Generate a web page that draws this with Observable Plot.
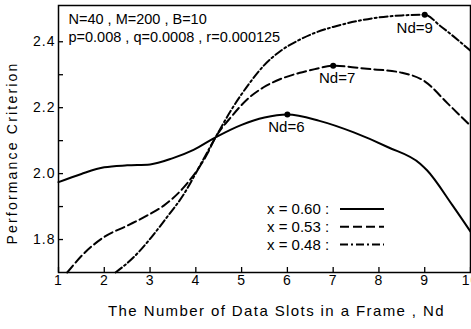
<!DOCTYPE html>
<html><head><meta charset="utf-8">
<script src="https://cdn.jsdelivr.net/npm/d3@7"></script>
<script src="https://cdn.jsdelivr.net/npm/@observablehq/plot@0.6"></script>
<style>
html,body{margin:0;padding:0;background:#fff;overflow:hidden}
#chart{position:relative;width:471px;height:329px}
</style></head><body><div id="chart"></div>
<script>
// ---- data ----
const xTicks = [1, 2, 3, 4, 5, 6, 7, 8, 9, 10];
const yTicks = [1.8, 1.9, 2.0, 2.1, 2.2, 2.3, 2.4];
const yLabeled = [1.8, 2.0, 2.2, 2.4];
const seriesNames = ["x = 0.60", "x = 0.53", "x = 0.48"];

const nd60 = [1, 1.5, 2, 2.5, 3, 3.5, 3.95, 4.43, 5, 5.5, 6, 6.7, 7.45, 8.2, 8.9, 9.05, 9.6, 10];
const perf60 = [1.974, 1.999, 2.019, 2.025, 2.028, 2.047, 2.072, 2.11, 2.148, 2.17, 2.179, 2.16, 2.125, 2.08, 2.03, 2.01, 1.905, 1.824];

const nd53 = [1.19, 1.55, 2, 2.5, 2.94, 3.3, 3.74, 4.25, 4.43, 4.76, 5.12, 5.48, 5.85, 6.25, 6.6, 7, 7.74, 8.5, 9, 9.5, 10];
const perf53 = [1.7, 1.757, 1.808, 1.842, 1.873, 1.903, 1.959, 2.06, 2.11, 2.17, 2.225, 2.262, 2.287, 2.305, 2.317, 2.327, 2.318, 2.306, 2.28, 2.213, 2.145];

const nd48 = [2.245, 2.64, 3, 3.37, 3.74, 4.03, 4.25, 4.43, 4.76, 5.15, 5.5, 5.85, 6.25, 6.6, 7, 7.5, 8, 8.5, 9, 9.34, 10];
const perf48 = [1.7, 1.746, 1.802, 1.868, 1.938, 2.009, 2.065, 2.11, 2.19, 2.27, 2.33, 2.372, 2.405, 2.427, 2.445, 2.462, 2.474, 2.48, 2.482, 2.448, 2.373];

const peakNd = [6, 7, 9];
const peakPerf = [2.179, 2.327, 2.482];
const peakLabels = ["Nd=6", "Nd=7", "Nd=9"];

const paramLines = ["N=40 , M=200 , B=10", "p=0.008 , q=0.0008 , r=0.000125"];
const xLabel = "The Number of Data Slots in a Frame , Nd";
const yLabel = "Performance Criterion";

// ---- build ----
const series = [
  {name: seriesNames[0], rows: nd60.map((nd, i) => ({nd, perf: perf60[i]}))},
  {name: seriesNames[1], rows: nd53.map((nd, i) => ({nd, perf: perf53[i]}))},
  {name: seriesNames[2], rows: nd48.map((nd, i) => ({nd, perf: perf48[i]}))}
];
const dashes = [null, "9,4", "8,3,2,3"];
const peaks = peakNd.map((nd, i) => ({nd, perf: peakPerf[i], label: peakLabels[i]}));
const peakOffsets = [[-1, 13], [4, 12.5], [-10, 13]];

const font = "'Liberation Sans', Arial, sans-serif";

const chart = Plot.plot({
  width: 471,
  height: 329,
  marginLeft: 58,
  marginRight: 1,
  marginTop: 5,
  marginBottom: 57,
  style: {fontFamily: font, fontSize: "14px", background: "#fff", color: "#000"},
  x: {domain: [1, 10]},
  y: {domain: [1.7, 2.51]},
  marks: [
    Plot.axisX(xTicks, {tickSize: -5, tickFormat: () => "", label: null, strokeWidth: 1.3}),
    Plot.axisX(xTicks, {tickSize: 0, tickPadding: 3, label: null, fontSize: 14}),
    Plot.axisY(yTicks, {tickSize: -5, tickFormat: () => "", label: null, strokeWidth: 1.3}),
    Plot.axisY(yLabeled, {tickSize: 0, tickPadding: 3, label: null, fontSize: 14, tickFormat: d3.format(".1f")}),
    Plot.frame({stroke: "#000", strokeWidth: 1.5}),
    ...series.map((s, i) => Plot.line(s.rows, {
      x: "nd", y: "perf", curve: "monotone-x",
      stroke: "#000", strokeWidth: 2, strokeDasharray: dashes[i]
    })),
    Plot.dot(peaks, {x: "nd", y: "perf", r: 3, fill: "#000"}),
    ...peaks.map((p, i) => Plot.text([p], {
      x: "nd", y: "perf", text: "label", dx: peakOffsets[i][0], dy: peakOffsets[i][1],
      fontSize: 15, fill: "#000"
    })),
    Plot.text([paramLines[0]], {frameAnchor: "top-left", dx: 10, dy: 14, textAnchor: "start", lineAnchor: "middle", fontSize: 14.5}),
    Plot.text([paramLines[1]], {frameAnchor: "top-left", dx: 10, dy: 32, textAnchor: "start", lineAnchor: "middle", fontSize: 14.5}),
    Plot.text([yLabel], {frameAnchor: "left", textAnchor: "middle", lineAnchor: "middle", rotate: -90, dx: -46, dy: 14, fontSize: 14}),
    Plot.text([xLabel], {frameAnchor: "bottom", textAnchor: "middle", dx: 12, dy: 39, lineAnchor: "middle", fontSize: 15})
  ]
});

document.getElementById("chart").appendChild(chart);

const svg = d3.select(chart);
svg.selectAll("text").filter(function() { return this.textContent === yLabel; }).style("letter-spacing", "2.2px");
svg.selectAll("text").filter(function() { return this.textContent === xLabel; }).style("letter-spacing", "1.4px");
svg.selectAll("g[aria-label$='tick label'] text").style("letter-spacing", "1px");

// legend (inside frame, lower right)
const legend = svg.append("g").attr("class", "legend");
series.forEach((s, i) => {
  const yy = 209 + 17.7 * i;
  legend.append("text")
    .attr("x", 267).attr("y", yy).attr("dy", "0.35em")
    .attr("text-anchor", "start")
    .attr("font-size", 15).attr("font-family", font).attr("fill", "#000")
    .text(s.name + " :");
  legend.append("line")
    .attr("x1", 340).attr("x2", 384).attr("y1", yy).attr("y2", yy)
    .attr("stroke", "#000").attr("stroke-width", 2)
    .attr("stroke-dasharray", dashes[i]);
});
</script>
</body></html>
